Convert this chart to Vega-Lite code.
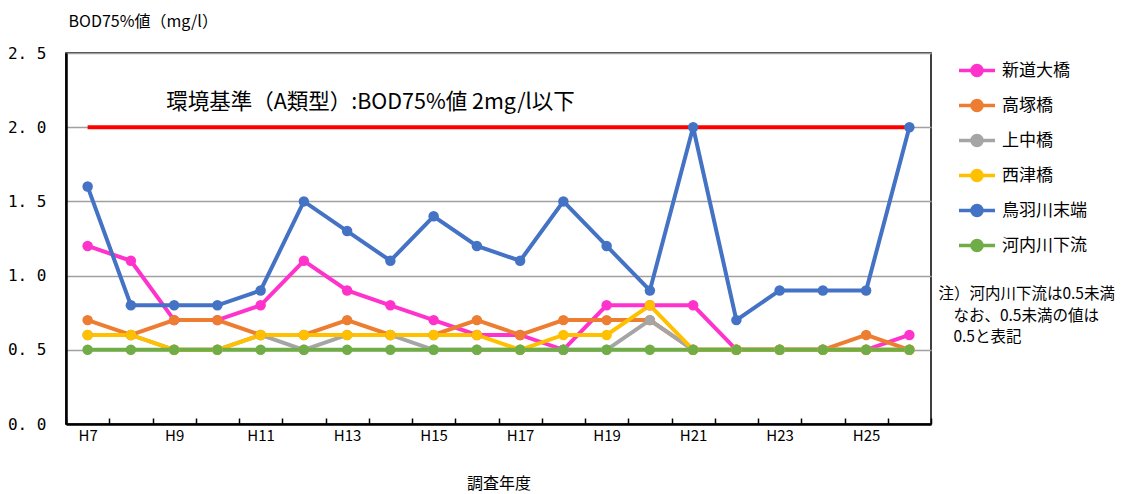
{
  "$schema": "https://vega.github.io/schema/vega-lite/v6.json",
  "width": 865,
  "height": 371,
  "autosize": {"type": "none"},
  "padding": {"left": 66, "top": 53, "right": 197, "bottom": 70},
  "config": {
    "font": "Noto Sans CJK JP",
    "view": {"stroke": "black", "strokeWidth": 1.5}
  },
  "encoding": {
    "x": {
      "field": "year",
      "type": "ordinal",
      "sort": null,
      "bandPosition": 0.5,
      "scale": {
        "type": "band",
        "paddingInner": 0,
        "paddingOuter": 0,
        "domain": ["H7","H8","H9","H10","H11","H12","H13","H14","H15","H16","H17","H18","H19","H20","H21","H22","H23","H24","H25","H26"]
      },
      "axis": {
        "title": "調査年度",
        "titleFontSize": 16,
        "titleFontWeight": "normal",
        "titleColor": "black",
        "titlePadding": 32,
        "labelExpr": "indexof(['H7','H9','H11','H13','H15','H17','H19','H21','H23','H25'], datum.value) >= 0 ? datum.label : ''",
        "labelAngle": 0,
        "labelFontSize": 15,
        "labelColor": "black",
        "labelPadding": 10,
        "tickBand": "extent",
        "tickSize": -6,
        "tickColor": "black",
        "tickWidth": 1.5,
        "domainColor": "black",
        "domainWidth": 2.5,
        "grid": false
      }
    },
    "y": {
      "field": "value",
      "type": "quantitative",
      "scale": {"domain": [0, 2.5], "nice": false, "zero": true},
      "axis": {
        "title": "BOD75%値（mg/l）",
        "titleAngle": 0,
        "titleAlign": "left",
        "titleBaseline": "alphabetic",
        "titleX": 2,
        "titleY": -27,
        "titleFontSize": 16,
        "titleFontWeight": "normal",
        "titleColor": "black",
        "values": [0, 0.5, 1, 1.5, 2, 2.5],
        "labelExpr": "replace(format(datum.value, '.1f'), '.', '. ')",
        "labelFont": "DejaVu Sans Mono",
        "labelFontSize": 16,
        "labelColor": "black",
        "labelPadding": 20,
        "ticks": false,
        "grid": true,
        "gridColor": "#a0a0a0",
        "gridWidth": 1.5,
        "domainColor": "black",
        "domainWidth": 2.5
      }
    }
  },
  "layer": [
    {
      "data": {"values": [
        {"year": "H7", "value": 2.0},
        {"year": "H26", "value": 2.0}
      ]},
      "mark": {"type": "line", "color": "#ff0000", "strokeWidth": 4}
    },
    {
      "data": {"values": [
        {"site": "新道大橋", "year": "H7", "value": 1.2},
        {"site": "新道大橋", "year": "H8", "value": 1.1},
        {"site": "新道大橋", "year": "H9", "value": 0.7},
        {"site": "新道大橋", "year": "H10", "value": 0.7},
        {"site": "新道大橋", "year": "H11", "value": 0.8},
        {"site": "新道大橋", "year": "H12", "value": 1.1},
        {"site": "新道大橋", "year": "H13", "value": 0.9},
        {"site": "新道大橋", "year": "H14", "value": 0.8},
        {"site": "新道大橋", "year": "H15", "value": 0.7},
        {"site": "新道大橋", "year": "H16", "value": 0.6},
        {"site": "新道大橋", "year": "H17", "value": 0.6},
        {"site": "新道大橋", "year": "H18", "value": 0.5},
        {"site": "新道大橋", "year": "H19", "value": 0.8},
        {"site": "新道大橋", "year": "H20", "value": 0.8},
        {"site": "新道大橋", "year": "H21", "value": 0.8},
        {"site": "新道大橋", "year": "H22", "value": 0.5},
        {"site": "新道大橋", "year": "H23", "value": 0.5},
        {"site": "新道大橋", "year": "H24", "value": 0.5},
        {"site": "新道大橋", "year": "H25", "value": 0.5},
        {"site": "新道大橋", "year": "H26", "value": 0.6},
        {"site": "高塚橋", "year": "H7", "value": 0.7},
        {"site": "高塚橋", "year": "H8", "value": 0.6},
        {"site": "高塚橋", "year": "H9", "value": 0.7},
        {"site": "高塚橋", "year": "H10", "value": 0.7},
        {"site": "高塚橋", "year": "H11", "value": 0.6},
        {"site": "高塚橋", "year": "H12", "value": 0.6},
        {"site": "高塚橋", "year": "H13", "value": 0.7},
        {"site": "高塚橋", "year": "H14", "value": 0.6},
        {"site": "高塚橋", "year": "H15", "value": 0.6},
        {"site": "高塚橋", "year": "H16", "value": 0.7},
        {"site": "高塚橋", "year": "H17", "value": 0.6},
        {"site": "高塚橋", "year": "H18", "value": 0.7},
        {"site": "高塚橋", "year": "H19", "value": 0.7},
        {"site": "高塚橋", "year": "H20", "value": 0.7},
        {"site": "高塚橋", "year": "H21", "value": 0.5},
        {"site": "高塚橋", "year": "H22", "value": 0.5},
        {"site": "高塚橋", "year": "H23", "value": 0.5},
        {"site": "高塚橋", "year": "H24", "value": 0.5},
        {"site": "高塚橋", "year": "H25", "value": 0.6},
        {"site": "高塚橋", "year": "H26", "value": 0.5},
        {"site": "上中橋", "year": "H7", "value": 0.6},
        {"site": "上中橋", "year": "H8", "value": 0.6},
        {"site": "上中橋", "year": "H9", "value": 0.5},
        {"site": "上中橋", "year": "H10", "value": 0.5},
        {"site": "上中橋", "year": "H11", "value": 0.6},
        {"site": "上中橋", "year": "H12", "value": 0.5},
        {"site": "上中橋", "year": "H13", "value": 0.6},
        {"site": "上中橋", "year": "H14", "value": 0.6},
        {"site": "上中橋", "year": "H15", "value": 0.5},
        {"site": "上中橋", "year": "H16", "value": 0.5},
        {"site": "上中橋", "year": "H17", "value": 0.5},
        {"site": "上中橋", "year": "H18", "value": 0.5},
        {"site": "上中橋", "year": "H19", "value": 0.5},
        {"site": "上中橋", "year": "H20", "value": 0.7},
        {"site": "上中橋", "year": "H21", "value": 0.5},
        {"site": "上中橋", "year": "H22", "value": 0.5},
        {"site": "上中橋", "year": "H23", "value": 0.5},
        {"site": "上中橋", "year": "H24", "value": 0.5},
        {"site": "上中橋", "year": "H25", "value": 0.5},
        {"site": "上中橋", "year": "H26", "value": 0.5},
        {"site": "西津橋", "year": "H7", "value": 0.6},
        {"site": "西津橋", "year": "H8", "value": 0.6},
        {"site": "西津橋", "year": "H9", "value": 0.5},
        {"site": "西津橋", "year": "H10", "value": 0.5},
        {"site": "西津橋", "year": "H11", "value": 0.6},
        {"site": "西津橋", "year": "H12", "value": 0.6},
        {"site": "西津橋", "year": "H13", "value": 0.6},
        {"site": "西津橋", "year": "H14", "value": 0.6},
        {"site": "西津橋", "year": "H15", "value": 0.6},
        {"site": "西津橋", "year": "H16", "value": 0.6},
        {"site": "西津橋", "year": "H17", "value": 0.5},
        {"site": "西津橋", "year": "H18", "value": 0.6},
        {"site": "西津橋", "year": "H19", "value": 0.6},
        {"site": "西津橋", "year": "H20", "value": 0.8},
        {"site": "西津橋", "year": "H21", "value": 0.5},
        {"site": "西津橋", "year": "H22", "value": 0.5},
        {"site": "西津橋", "year": "H23", "value": 0.5},
        {"site": "西津橋", "year": "H24", "value": 0.5},
        {"site": "西津橋", "year": "H25", "value": 0.5},
        {"site": "西津橋", "year": "H26", "value": 0.5},
        {"site": "鳥羽川末端", "year": "H7", "value": 1.6},
        {"site": "鳥羽川末端", "year": "H8", "value": 0.8},
        {"site": "鳥羽川末端", "year": "H9", "value": 0.8},
        {"site": "鳥羽川末端", "year": "H10", "value": 0.8},
        {"site": "鳥羽川末端", "year": "H11", "value": 0.9},
        {"site": "鳥羽川末端", "year": "H12", "value": 1.5},
        {"site": "鳥羽川末端", "year": "H13", "value": 1.3},
        {"site": "鳥羽川末端", "year": "H14", "value": 1.1},
        {"site": "鳥羽川末端", "year": "H15", "value": 1.4},
        {"site": "鳥羽川末端", "year": "H16", "value": 1.2},
        {"site": "鳥羽川末端", "year": "H17", "value": 1.1},
        {"site": "鳥羽川末端", "year": "H18", "value": 1.5},
        {"site": "鳥羽川末端", "year": "H19", "value": 1.2},
        {"site": "鳥羽川末端", "year": "H20", "value": 0.9},
        {"site": "鳥羽川末端", "year": "H21", "value": 2.0},
        {"site": "鳥羽川末端", "year": "H22", "value": 0.7},
        {"site": "鳥羽川末端", "year": "H23", "value": 0.9},
        {"site": "鳥羽川末端", "year": "H24", "value": 0.9},
        {"site": "鳥羽川末端", "year": "H25", "value": 0.9},
        {"site": "鳥羽川末端", "year": "H26", "value": 2.0},
        {"site": "河内川下流", "year": "H7", "value": 0.5},
        {"site": "河内川下流", "year": "H8", "value": 0.5},
        {"site": "河内川下流", "year": "H9", "value": 0.5},
        {"site": "河内川下流", "year": "H10", "value": 0.5},
        {"site": "河内川下流", "year": "H11", "value": 0.5},
        {"site": "河内川下流", "year": "H12", "value": 0.5},
        {"site": "河内川下流", "year": "H13", "value": 0.5},
        {"site": "河内川下流", "year": "H14", "value": 0.5},
        {"site": "河内川下流", "year": "H15", "value": 0.5},
        {"site": "河内川下流", "year": "H16", "value": 0.5},
        {"site": "河内川下流", "year": "H17", "value": 0.5},
        {"site": "河内川下流", "year": "H18", "value": 0.5},
        {"site": "河内川下流", "year": "H19", "value": 0.5},
        {"site": "河内川下流", "year": "H20", "value": 0.5},
        {"site": "河内川下流", "year": "H21", "value": 0.5},
        {"site": "河内川下流", "year": "H22", "value": 0.5},
        {"site": "河内川下流", "year": "H23", "value": 0.5},
        {"site": "河内川下流", "year": "H24", "value": 0.5},
        {"site": "河内川下流", "year": "H25", "value": 0.5},
        {"site": "河内川下流", "year": "H26", "value": 0.5}
      ]},
      "mark": {"type": "line", "strokeWidth": 4, "point": {"filled": true, "size": 110, "opacity": 1}},
      "encoding": {
        "color": {
          "field": "site",
          "type": "nominal",
          "sort": null,
          "scale": {
            "domain": ["新道大橋", "高塚橋", "上中橋", "西津橋", "鳥羽川末端", "河内川下流"],
            "range": ["#ff33cc", "#ed7d31", "#a5a5a5", "#ffc000", "#4472c4", "#70ad47"]
          },
          "legend": {
            "title": null,
            "orient": "none",
            "legendX": 891,
            "legendY": -2.5,
            "padding": 0,
            "symbolType": "M -1 0 L 1 0 M 0.28 0 A 0.28 0.28 0 1 1 -0.28 0 A 0.28 0.28 0 1 1 0.28 0",
            "symbolSize": 1296,
            "symbolStrokeWidth": 3.5,
            "symbolFillColor": null,
            "labelFontSize": 17,
            "labelColor": "black",
            "labelOffset": 5,
            "rowPadding": 2
          }
        }
      }
    },
    {
      "data": {"values": [
        {"year": "H9", "value": 2.16, "label": "環境基準（A類型）:BOD75%値 2mg/l以下"}
      ]},
      "mark": {"type": "text", "align": "left", "baseline": "middle", "dx": -8, "fontSize": 21.5, "color": "black"},
      "encoding": {"text": {"field": "label"}}
    },
    {
      "data": {"values": [
        {"year": "H26", "value": 0.92, "note": "注）河内川下流は0.5未満"}
      ]},
      "mark": {"type": "text", "align": "left", "baseline": "top", "dx": 29, "fontSize": 15.5, "color": "black"},
      "encoding": {"text": {"field": "note"}}
    },
    {
      "data": {"values": [
        {"year": "H26", "value": 0.775, "note": ["なお、0.5未満の値は", "0.5と表記"]}
      ]},
      "mark": {"type": "text", "align": "left", "baseline": "top", "dx": 44, "fontSize": 15.5, "lineHeight": 21.5, "color": "black"},
      "encoding": {"text": {"field": "note"}}
    }
  ]
}
